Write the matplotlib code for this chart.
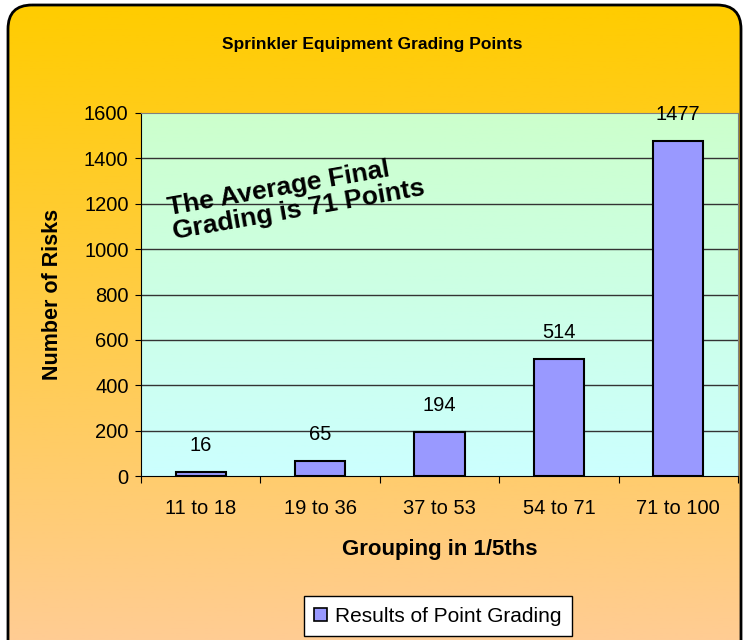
import numpy as np
import matplotlib.pyplot as plt
from matplotlib.patches import FancyBboxPatch, Patch
from matplotlib.colors import LinearSegmentedColormap

plt.rcParams["font.family"] = ["Liberation Sans", "DejaVu Sans"]

categories = ["11 to 18", "19 to 36", "37 to 53", "54 to 71", "71 to 100"]
counts = [16, 65, 194, 514, 1477]
yticks = [0, 200, 400, 600, 800, 1000, 1200, 1400, 1600]

W, H = 744, 640
fig = plt.figure(figsize=(W / 100, H / 100), dpi=100)
fig.patch.set_facecolor("white")

# outer rounded panel with yellow->peach gradient
bg = fig.add_axes([0, 0, 1, 1])
bg.set_xlim(0, W)
bg.set_ylim(H, 0)
bg.axis("off")
outer_cmap = LinearSegmentedColormap.from_list("outer", ["#FFCC00", "#FFCC99"])
grad = np.linspace(0, 1, 256).reshape(-1, 1)
img = bg.imshow(grad, cmap=outer_cmap, extent=(8, 741, 665, 5), aspect="auto", zorder=0)
panel = FancyBboxPatch((8, 5), 733, 660, boxstyle="round,pad=0,rounding_size=24",
                       facecolor="none", edgecolor="black", linewidth=2, zorder=2)
bg.add_patch(panel)
img.set_clip_path(panel)

# plot area
ax = fig.add_axes([141 / W, (H - 476) / H, 597 / W, 363 / H])
x = np.arange(len(categories))
ax.set_xlim(-0.5, len(categories) - 0.5)
ax.set_ylim(0, 1600)
inner_cmap = LinearSegmentedColormap.from_list("inner", ["#CCFFFF", "#CCFFCC"])
ax.imshow(grad, cmap=inner_cmap, origin="lower", extent=(-0.5, len(categories) - 0.5, 0, 1600),
          aspect="auto", zorder=0)
for yv in yticks[1:-1]:
    ax.axhline(yv, color="#333333", linewidth=1, zorder=1)

ax.bar(x, counts, width=0.42, color="#9999FF", edgecolor="black", linewidth=1.5, zorder=3)
for xi, c in zip(x, counts):
    ax.annotate(str(c), (xi, c), xytext=(0, 19), textcoords="offset points",
                ha="center", va="center", fontsize=14.5, zorder=4)

ax.set_yticks(yticks)
ax.tick_params(axis="y", labelsize=14.5, length=4, pad=5)
ax.set_xticks(np.arange(-0.5, len(categories)), labels=[])
ax.set_xticks(x, labels=categories, minor=True)
ax.tick_params(axis="x", which="major", length=5)
ax.tick_params(axis="x", which="minor", length=0, labelsize=14.5, pad=16.5)

for s in ["top", "right"]:
    ax.spines[s].set_color("#808080")
ax.spines["left"].set_color("black")
ax.spines["bottom"].set_color("black")

ax.set_ylabel("Number of Risks", fontsize=15.5, fontweight="bold")
ax.yaxis.set_label_coords((63 - 141) / 597, 0.5)
ax.set_xlabel("Grouping in 1/5ths", fontsize=16, fontweight="bold")
ax.xaxis.set_label_coords(0.5, (476 - 539) / 363)

ax.text(0.8, 1225, "The Average Final\nGrading is 71 Points", rotation=10,
        ha="center", va="center", multialignment="left",
        fontsize=19, fontweight="bold", zorder=5, linespacing=1.0)

fig.text(0.5, 1 - 45 / H, "Sprinkler Equipment Grading Points",
         ha="center", va="center", fontsize=12.5, fontweight="bold")

leg = fig.legend(handles=[Patch(facecolor="#9999FF", edgecolor="black", linewidth=1.2,
                                label="Results of Point Grading")],
                 loc="center", bbox_to_anchor=(438 / W, 1 - 616 / H), fontsize=15,
                 fancybox=False, framealpha=1, edgecolor="black",
                 handlelength=0.6, handleheight=0.6, handletextpad=0.4,
                 borderpad=0.5)
leg.get_frame().set_linewidth(1)

fig.savefig("out.png", dpi=100)
